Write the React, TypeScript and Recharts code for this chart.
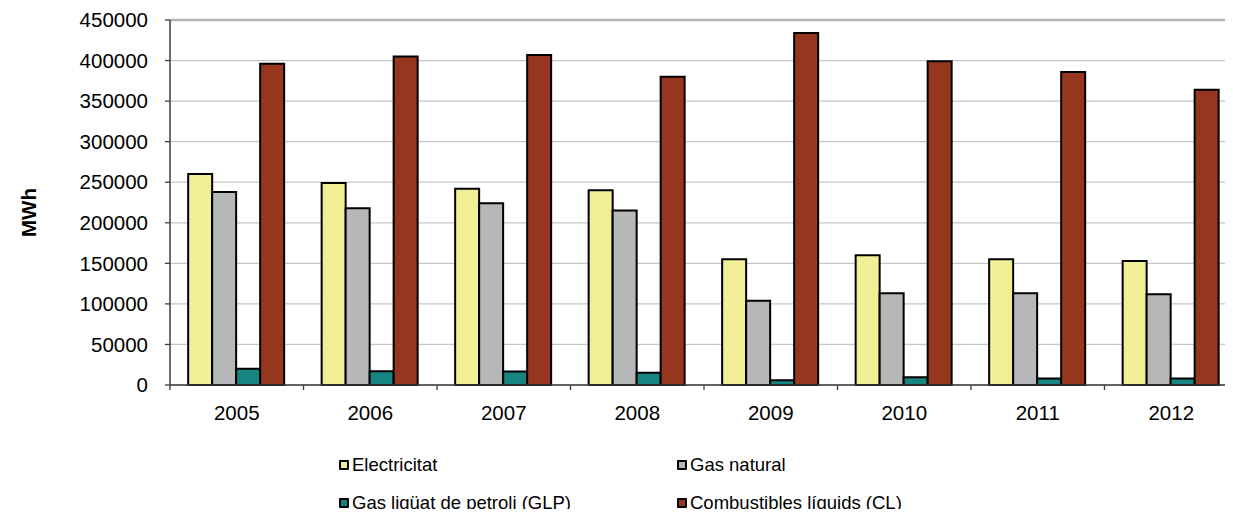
import React from 'react';
import { BarChart, Bar, XAxis, YAxis, CartesianGrid, Legend, ReferenceLine, Label } from 'recharts';

const years = ['2005', '2006', '2007', '2008', '2009', '2010', '2011', '2012'];
const electricitat = [260000, 249000, 242000, 240000, 155000, 160000, 155000, 153000];
const gasNatural = [238000, 218000, 224000, 215000, 104000, 113000, 113000, 112000];
const glp = [20000, 17000, 16500, 15000, 6000, 9500, 8000, 8000];
const combustibles = [396000, 405000, 407000, 380000, 434000, 399000, 386000, 364000];

const seriesKeys = ['elec', 'gas', 'glp', 'cl'];
const seriesNames = ['Electricitat', 'Gas natural', 'Gas liqüat de petroli (GLP)', 'Combustibles líquids (CL)'];
const seriesColors = ['#F1EF96', '#B6B7B9', '#168581', '#96361F'];
const yTicks = [0, 50000, 100000, 150000, 200000, 250000, 300000, 350000, 400000, 450000];
const yLabel = 'MWh';

const data = years.map((y, i) => ({
  year: y,
  elec: electricitat[i],
  gas: gasNatural[i],
  glp: glp[i],
  cl: combustibles[i],
}));

const FONT = '"Liberation Sans", Arial, sans-serif';
const AXIS_COLOR = '#3c3c3c';

const XTick = (props: any) => {
  const { x, y, payload, index } = props;
  const half = payload && typeof payload.offset === 'number' && payload.offset > 0 ? payload.offset : 1068 / 16;
  const isLast = index === years.length - 1;
  return (
    <g>
      <line x1={x - half} y1={y} x2={x - half} y2={y + 5} stroke={AXIS_COLOR} strokeWidth={1.3} />
      {isLast && <line x1={x + half} y1={y} x2={x + half} y2={y + 5} stroke={AXIS_COLOR} strokeWidth={1.3} />}
      <text x={x} y={y + 20} dy="0.71em" textAnchor="middle" fontFamily={FONT} fontSize={20.5} fill="#000">
        {payload.value}
      </text>
    </g>
  );
};

const renderLegend = () => (
  <div
    style={{
      display: 'grid',
      gridTemplateColumns: '338px 338px',
      fontFamily: FONT,
      fontSize: 18.5,
      color: '#000',
    }}
  >
    {seriesNames.map((n, i) => (
      <div key={n} style={{ display: 'flex', alignItems: 'center', height: 38 }}>
        <span
          style={{
            display: 'inline-block',
            width: 10,
            height: 10,
            boxSizing: 'border-box',
            border: '2px solid #000',
            background: seriesColors[i],
            marginRight: 3,
            borderRadius: 1,
          }}
        />
        <span style={{ lineHeight: 1 }}>{n}</span>
      </div>
    ))}
  </div>
);

export default function App() {
  return (
    <div style={{ margin: -8, width: 1233, height: 517, overflow: 'hidden', background: '#fff', position: 'relative' }}>
      <BarChart
        width={1250}
        height={517}
        data={data}
        margin={{ top: 20, right: 12, left: 0, bottom: 0 }}
        barGap={0}
        barCategoryGap="13.6%"
      >
        <CartesianGrid horizontal vertical={false} stroke="#c6c6c6" strokeWidth={1.3} />
        <XAxis
          dataKey="year"
          interval={0}
          height={132}
          tickSize={0}
          tickMargin={0}
          tickLine={false}
          tick={<XTick />}
          axisLine={{ stroke: AXIS_COLOR, strokeWidth: 1.5 }}
        />
        <YAxis
          width={170}
          domain={[0, 450000]}
          ticks={yTicks}
          interval={0}
          tickSize={5}
          tickMargin={17}
          tickLine={{ stroke: AXIS_COLOR, strokeWidth: 1.3 }}
          axisLine={{ stroke: AXIS_COLOR, strokeWidth: 1.5 }}
          tick={{ fontFamily: FONT, fontSize: 20.5, fill: '#000' }}
        >
          <Label
            value={yLabel}
            angle={-90}
            position="center"
            dx={-56.5}
            dy={10}
            style={{ fontFamily: FONT, fontSize: 20.5, fontWeight: 'bold', fill: '#000' }}
          />
        </YAxis>
        <ReferenceLine y={450000} stroke="#b5b5b5" strokeWidth={2.5} />
        {seriesKeys.map((k, i) => (
          <Bar
            key={k}
            dataKey={k}
            name={seriesNames[i]}
            fill={seriesColors[i]}
            stroke="#000"
            strokeWidth={2}
            isAnimationActive={false}
          />
        ))}
        <Legend
          layout="vertical"
          align="center"
          verticalAlign="middle"
          wrapperStyle={{ position: 'absolute', left: 339, top: 446, width: 720, height: 76, margin: 0 }}
          content={renderLegend}
        />
      </BarChart>
    </div>
  );
}
